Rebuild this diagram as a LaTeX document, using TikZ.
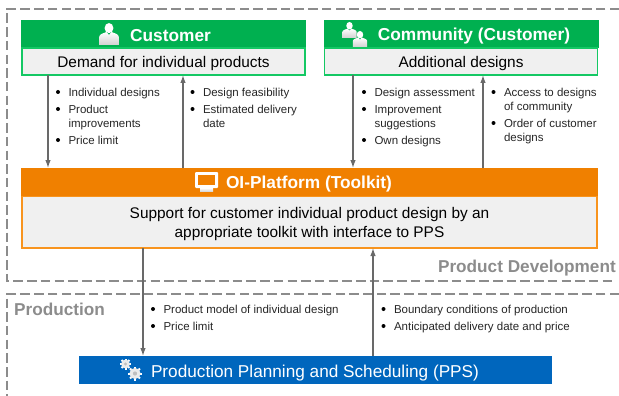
\documentclass[tikz,border=0pt]{standalone}
\usepackage{fontspec}
\setmainfont{Liberation Sans}
\usetikzlibrary{arrows.meta}
\definecolor{grn}{RGB}{0,176,80}
\definecolor{grnl}{RGB}{20,200,100}
\definecolor{org}{RGB}{240,128,0}
\definecolor{orgl}{RGB}{248,148,30}
\definecolor{blu}{RGB}{0,102,189}
\definecolor{bodyf}{RGB}{240,240,240}
\definecolor{dashc}{RGB}{140,140,140}
\definecolor{arrc}{RGB}{105,105,105}
\definecolor{lblc}{RGB}{140,140,140}
\tikzset{
 x=1pt,y=-1pt,
 headbox/.style={anchor=north west,inner sep=0pt,outer sep=0pt},
 headtext/.style={text=white,inner sep=0pt,font=\fontsize{17.3}{20}\selectfont\bfseries},
 bodybox/.style={anchor=north west,inner sep=0pt,outer sep=0pt,fill=bodyf,line width=1.1pt,text=black,align=center,text depth=0pt,font=\fontsize{15.4}{17.5}\selectfont},
 frameline/.style={draw=dashc,line width=1.1pt,dash pattern=on 9.5pt off 4.2pt},
 arr/.style={draw=arrc,line width=1.2pt,-{Latex[length=8pt,width=5.5pt]}},
 bul/.style={anchor=north west,inner sep=0pt,outer sep=0pt,align=left,font=\fontsize{11.5}{14}\selectfont,text=black!85},
 dot/.style={circle,fill=black,inner sep=0pt,minimum size=4pt},
 seclabel/.style={text=lblc,inner sep=0pt,font=\fontsize{17.2}{20}\selectfont\bfseries},
}
\newcommand{\person}[3]{%
 \begin{scope}[shift={(#1,#2)},scale=#3]
  \shade[top color=white,bottom color=black!18] (-10,11) -- (-10,3) .. controls (-10,0) and (-5,-1) .. (-2.5,-2) -- (0,1) -- (2.5,-2) .. controls (5,-1) and (10,0) .. (10,3) -- (10,11) -- cycle;
  \fill[white] (0,-6) ellipse (4.5 and 5.2);
 \end{scope}}
\newcommand{\gear}[3]{%
 \begin{scope}[shift={(#1,#2)}]
  \foreach \a in {0,45,...,315}{\draw[white,line width=2pt] (0,0) -- (\a:#3);}
  \fill[black!8] (0,0) circle (#3*0.8);
  \fill[black!25] (0,0) circle (#3*0.3);
 \end{scope}}
\begin{document}
\begin{tikzpicture}
\useasboundingbox (0,0) rectangle (619,396);
% frames
\coordinate (fa) at (619,9);
\coordinate (fb) at (7,9);
\coordinate (fc) at (7,281);
\coordinate (fd) at (616,281);
\coordinate (pa) at (619,294);
\coordinate (pb) at (7,294);
\coordinate (pc) at (7,396);
\draw[frameline] (fa) -- (fb) -- (fc) -- (fd);
\draw[frameline] (pa) -- (pb) -- (pc);
\node[seclabel,anchor=east] (pdlabel) at (616,268) {Product Development};
\node[seclabel,anchor=west] (prlabel) at (14,309) {Production};
% customer
\node[headbox,fill=grn,minimum width=285pt,minimum height=28pt] (chead) at (21,20) {};
\node[bodybox,draw=grnl,minimum width=283pt,minimum height=27pt] (cbody) at (22,48) {Demand for individual products};
\node[headtext] (ctext) at (170.5,36) {Customer};
\person{109}{34}{0.98}
% community
\node[headbox,fill=grn,minimum width=275pt,minimum height=28pt] (khead) at (323.5,20) {};
\node[bodybox,draw=grnl,minimum width=273pt,minimum height=27pt] (kbody) at (324.5,48) {Additional designs};
\node[headtext] (ktext) at (474,36) {Community (Customer)};
\person{349.5}{30}{0.72}
\person{360}{39}{0.72}
% OI
\node[headbox,fill=org,minimum width=577pt,minimum height=28pt] (ohead) at (21,168) {};
\node[bodybox,draw=orgl,minimum width=575pt,minimum height=51.5pt] (obody) at (22,196.5) {Support for customer individual product design by an\\[1pt]appropriate toolkit with interface to PPS};
\node[headtext] (otext) at (309,184) {OI-Platform (Toolkit)};
\fill[white,rounded corners=1pt] (195,172) rectangle (218,188);
\fill[org] (198,175) rectangle (215,185);
\shade[top color=white,bottom color=black!15] (200,188) rectangle (213,191);
% PPS
\node[headbox,fill=blu,minimum width=473pt,minimum height=28pt] (pps) at (79,356) {};
\node[text=white,inner sep=0pt,font=\fontsize{17.2}{20}\selectfont] (ptext) at (315,373) {Production Planning and Scheduling (PPS)};
\gear{125.5}{364}{5.5}
\gear{135}{373.5}{7}
% arrows
\coordinate (a1) at (48,0); \coordinate (a2) at (183,0);
\coordinate (a3) at (353,0); \coordinate (a4) at (483,0);
\coordinate (a5) at (143,0); \coordinate (a6) at (373,0);
\draw[arr] (cbody.south -| a1) -- (ohead.north -| a1);
\draw[arr] (ohead.north -| a2) -- (cbody.south -| a2);
\draw[arr] (kbody.south -| a3) -- (ohead.north -| a3);
\draw[arr] (ohead.north -| a4) -- (kbody.south -| a4);
\draw[arr] (obody.south -| a5) -- (pps.north -| a5);
\draw[arr] (pps.north -| a6) -- (obody.south -| a6);
% bullets
\newcommand{\bl}[4]{\node[dot] at (#1-10.5,#2+3.5) {}; \node[bul] (#3) at (#1,#2) {#4};}
\bl{68.5}{88.5}{b1}{Individual designs}
\bl{68.5}{105.5}{b2}{Product\\improvements}
\bl{68.5}{136.5}{b3}{Price limit}
\bl{203}{88.5}{b4}{Design feasibility}
\bl{203}{105.5}{b5}{Estimated delivery\\date}
\bl{374.5}{88.5}{b6}{Design assessment}
\bl{374.5}{105.5}{b7}{Improvement\\suggestions}
\bl{374.5}{136.5}{b8}{Own designs}
\bl{504}{88.5}{b9}{Access to designs\\of community}
\bl{504}{119.5}{b10}{Order of customer\\designs}
\bl{163.5}{305.5}{b11}{Product model of individual design}
\bl{163.5}{322.5}{b12}{Price limit}
\bl{394}{305.5}{b13}{Boundary conditions of production}
\bl{394}{322.5}{b14}{Anticipated delivery date and price}
\end{tikzpicture}
\end{document}
